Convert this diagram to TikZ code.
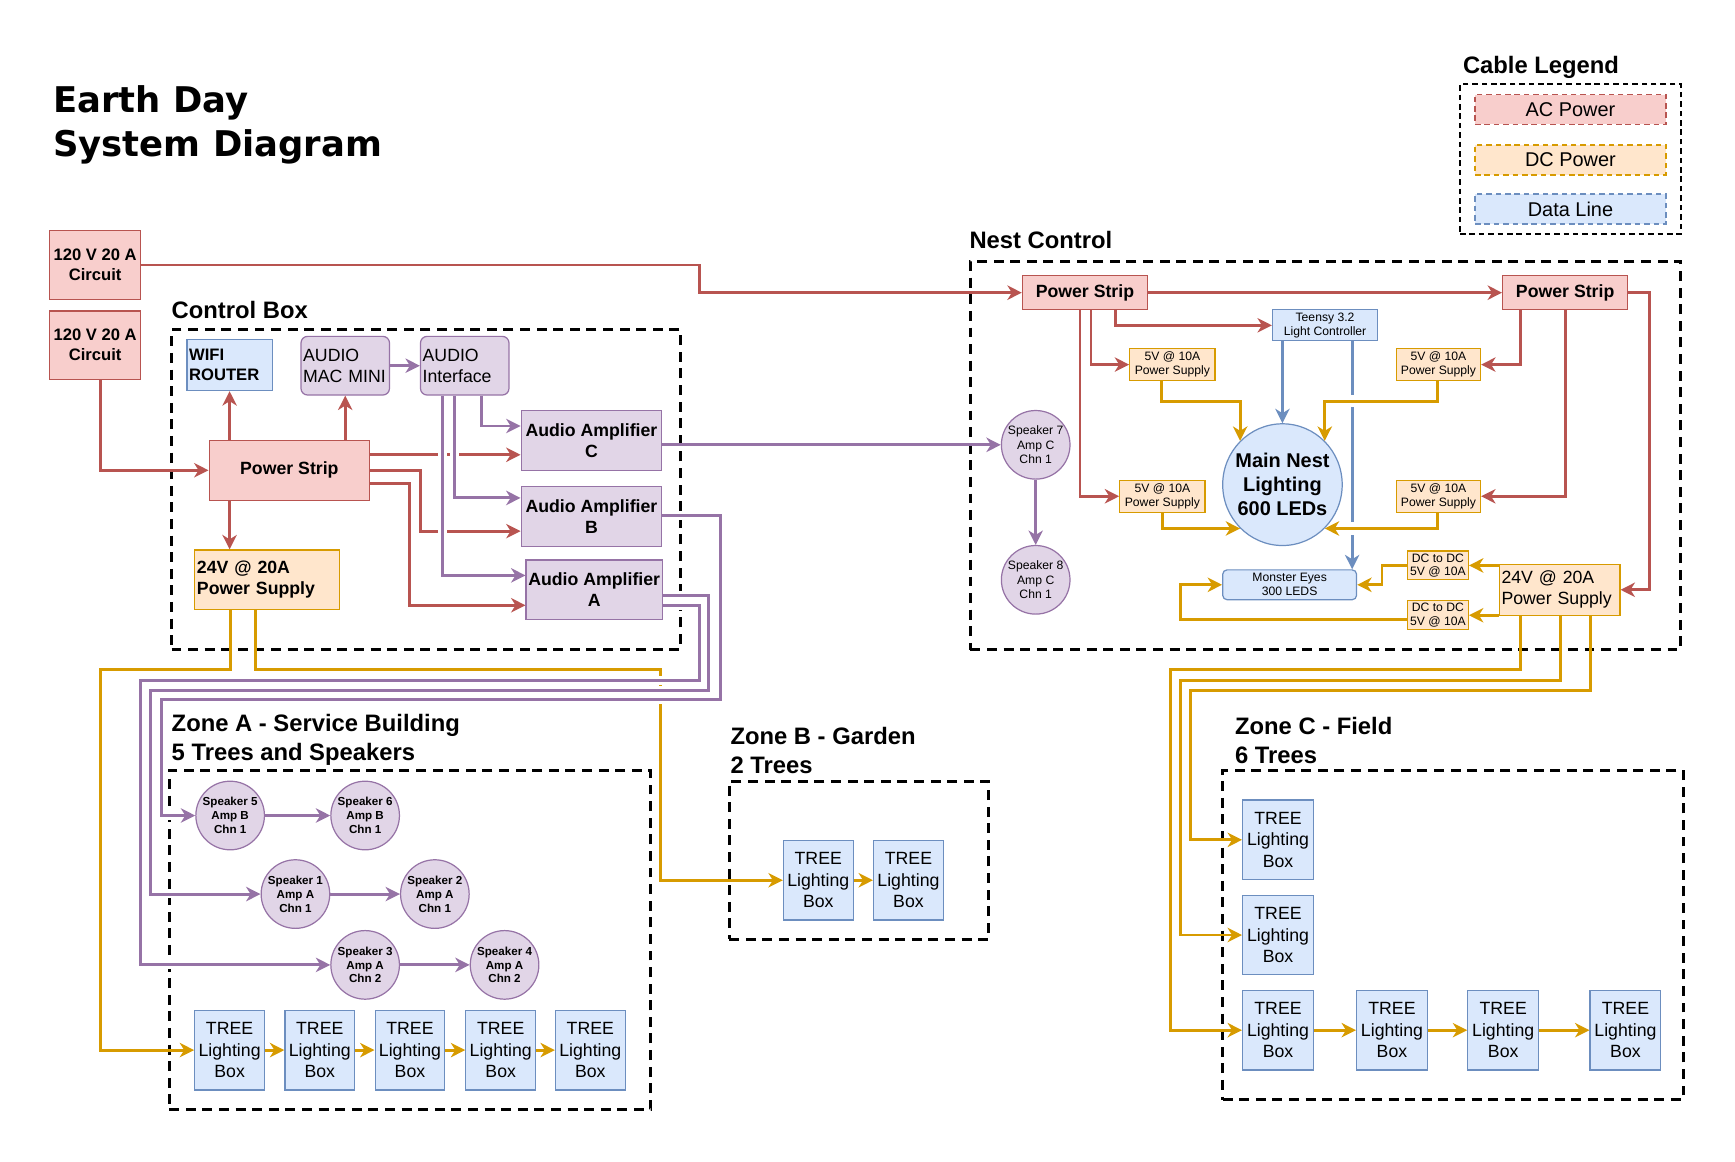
\documentclass[tikz,border=0pt]{standalone}
\usepackage{fontspec}
\setmainfont{Liberation Sans}
\newfontfamily\titlefont{DejaVu Sans}
\usetikzlibrary{arrows.meta,shapes.geometric}
\definecolor{redF}{HTML}{F8CECC}
\definecolor{redS}{HTML}{B85450}
\definecolor{orgF}{HTML}{FFE6CC}
\definecolor{orgS}{HTML}{D79B00}
\definecolor{bluF}{HTML}{DAE8FC}
\definecolor{bluS}{HTML}{6C8EBF}
\definecolor{purF}{HTML}{E1D5E7}
\definecolor{purS}{HTML}{9673A6}
\newcommand\fsz[2]{\fontsize{#1}{#2}\selectfont}
\tikzset{
  basebox/.style={draw, line width=1.1pt, inner sep=2pt, align=center, text=black},
  redbox/.style={basebox, fill=redF, draw=redS},
  orgbox/.style={basebox, fill=orgF, draw=orgS},
  blubox/.style={basebox, fill=bluF, draw=bluS},
  purbox/.style={basebox, fill=purF, draw=purS},
  small/.style={inner sep=1pt, font=\fsz{11}{12.6}},
  tree/.style={blubox, minimum width=63pt, minimum height=72pt, font=\fsz{16}{19.5}},
  spk/.style={circle, fill=purF, draw=purS, line width=1.1pt, minimum size=62pt, inner sep=0pt, align=center, font=\fsz{10.5}{12.6}\bfseries},
  spkn/.style={spk, font=\fsz{11}{13.2}},
  cont/.style={draw=black, line width=2.7pt, dash pattern=on 9pt off 6pt},
  lbl/.style={font=\fsz{21.5}{26}\bfseries, anchor=base west, inner sep=0pt, align=left},
  tip/.style={-{Stealth[length=13pt,width=13pt,inset=4pt]}},
  ac/.style={draw=redS, line width=2.6pt, tip},
  dc/.style={draw=orgS, line width=2.6pt, tip},
  dataln/.style={draw=bluS, line width=2.6pt, tip},
  aud/.style={draw=purS, line width=2.6pt, tip},
  halo/.style={preaction={draw=white, line width=#1, arrows=-, shorten <=6pt, shorten >=15pt}},
  legbox/.style={line width=1.4pt, dash pattern=on 5pt off 3.5pt, minimum width=172.6pt, minimum height=27pt, font=\fsz{18}{21}, inner sep=0pt}
}
\begin{document}
\begin{tikzpicture}[x=1pt,y=-1pt]
\useasboundingbox (0,0) rectangle (1568,1050);

% ---------- titles and labels
\node[font=\titlefont\fsz{32}{39}\bfseries, anchor=base west, inner sep=0pt, align=left] (title) at (48,141) {Earth Day\\System Diagram};
\node[lbl] (lcb) at (155,288) {Control Box};
\node[lbl] (lnest) at (876,225) {Nest Control};
\node[lbl] (lza) at (155,687) {Zone A - Service Building\\5 Trees and Speakers};
\node[lbl] (lzb) at (660,699) {Zone B - Garden\\2 Trees};
\node[lbl] (lzc) at (1116,690) {Zone C - Field\\6 Trees};
\node[lbl] (lleg) at (1322,66) {Cable Legend};

% ---------- containers
\node[cont, minimum width=460pt, minimum height=289pt, inner sep=0pt] (cbox) at (385,442.5) {};
\node[cont, minimum width=642pt, minimum height=351pt, inner sep=0pt] (nbox) at (1198,411.5) {};
\node[cont, minimum width=435pt, minimum height=307pt, inner sep=0pt] (zabox) at (370.5,849.5) {};
\node[cont, minimum width=234pt, minimum height=143pt, inner sep=0pt] (zbbox) at (776,777.5) {};
\node[cont, minimum width=416pt, minimum height=298pt, inner sep=0pt] (zcbox) at (1313,845) {};
\node[draw=black, line width=1.4pt, dash pattern=on 5pt off 3.5pt, minimum width=199.5pt, minimum height=135.5pt, inner sep=0pt] (lgbox) at (1419.25,143.75) {};

% ---------- legend
\node[legbox, fill=redF, draw=redS] (lac) at (1419.3,99) {AC Power};
\node[legbox, fill=orgF, draw=orgS] (ldc) at (1419.3,144.5) {DC Power};
\node[legbox, fill=bluF, draw=bluS] (ldata) at (1419.3,189) {Data Line};

% ---------- circuits
\node[redbox, minimum width=82pt, minimum height=63pt, font=\fsz{15}{18}\bfseries] (c1) at (86,239.5) {120 V 20 A\\Circuit};
\node[redbox, minimum width=82pt, minimum height=62pt, font=\fsz{15}{18}\bfseries] (c2) at (86,312) {120 V 20 A\\Circuit};

% ---------- control box
\node[blubox, text width=73pt, align=left, minimum height=46pt, font=\fsz{15}{18}\bfseries] (wifi) at (207.5,330) {WIFI\\ROUTER};
\node[purbox, rounded corners=6pt, text width=76pt, align=left, minimum height=53pt, font=\fsz{16}{19}] (mac) at (312,330.5) {AUDIO\\MAC MINI};
\node[purbox, rounded corners=6pt, text width=76pt, align=left, minimum height=53pt, font=\fsz{16}{19}] (iface) at (420,330.5) {AUDIO\\Interface};
\node[redbox, minimum width=145pt, minimum height=54pt, font=\fsz{16}{19}\bfseries] (ps) at (261.5,425) {Power Strip};
\node[orgbox, text width=127pt, align=left, minimum height=54pt, font=\fsz{16}{19}\bfseries] (sup) at (241.5,524) {24V @ 20A\\Power Supply};
\node[purbox, minimum width=127pt, minimum height=54pt, font=\fsz{16}{19}\bfseries] (ampC) at (534.5,398) {Audio Amplifier\\C};
\node[purbox, minimum width=127pt, minimum height=54pt, font=\fsz{16}{19}\bfseries] (ampB) at (534.5,467) {Audio Amplifier\\B};
\node[purbox, minimum width=122pt, minimum height=54pt, font=\fsz{16}{19}\bfseries] (ampA) at (537,533) {Audio Amplifier\\A};

% ---------- nest control
\node[redbox, minimum width=113pt, minimum height=31pt, font=\fsz{16}{19}\bfseries] (ps1) at (980.5,264.5) {Power Strip};
\node[redbox, minimum width=113pt, minimum height=31pt, font=\fsz{16}{19}\bfseries] (ps2) at (1414.5,264.5) {Power Strip};
\node[blubox, small, minimum width=95pt, minimum height=28pt] (teensy) at (1197.5,294) {Teensy 3.2\\Light Controller};
\node[orgbox, small, minimum width=77pt, minimum height=29pt] (v1) at (1059.5,329.5) {5V @ 10A\\Power Supply};
\node[orgbox, small, minimum width=76pt, minimum height=29pt] (v2) at (1300,329.5) {5V @ 10A\\Power Supply};
\node[orgbox, small, minimum width=77pt, minimum height=29pt] (v3) at (1050.5,448.5) {5V @ 10A\\Power Supply};
\node[orgbox, small, minimum width=76pt, minimum height=29pt] (v4) at (1300,448.5) {5V @ 10A\\Power Supply};
\node[ellipse, fill=bluF, draw=bluS, line width=1.1pt, minimum width=108pt, minimum height=110pt, inner sep=-5pt, align=center, font=\fsz{18}{21.5}\bfseries] (mainnest) at (1159,438) {Main Nest\\Lighting\\600 LEDs};
\node[blubox, small, rounded corners=4pt, minimum width=121pt, minimum height=27pt] (monster) at (1165.5,528.5) {Monster Eyes\\300 LEDS};
\node[orgbox, small, minimum width=55pt, minimum height=26pt, font=\fsz{11}{12}] (dc1) at (1299.5,511) {DC to DC\\5V @ 10A};
\node[orgbox, small, minimum width=55pt, minimum height=26pt, font=\fsz{11}{12}] (dc2) at (1299.5,556) {DC to DC\\5V @ 10A};
\node[orgbox, text width=105pt, align=left, minimum height=46pt, font=\fsz{16}{19}] (sup2) at (1409.5,533) {24V @ 20A\\Power Supply};
\node[spkn] (sp7) at (936,402) {Speaker 7\\Amp C\\Chn 1};
\node[spkn] (sp8) at (936,524) {Speaker 8\\Amp C\\Chn 1};

% ---------- zone A
\node[spk] (sp5) at (208,737) {Speaker 5\\Amp B\\Chn 1};
\node[spk] (sp6) at (330,737) {Speaker 6\\Amp B\\Chn 1};
\node[spk] (sp1) at (267,808) {Speaker 1\\Amp A\\Chn 1};
\node[spk] (sp2) at (393,808) {Speaker 2\\Amp A\\Chn 1};
\node[spk] (sp3) at (330,872) {Speaker 3\\Amp A\\Chn 2};
\node[spk] (sp4) at (456,872) {Speaker 4\\Amp A\\Chn 2};
\node[tree] (ta1) at (207.5,949) {TREE\\Lighting\\Box};
\node[tree] (ta2) at (289,949) {TREE\\Lighting\\Box};
\node[tree] (ta3) at (370.5,949) {TREE\\Lighting\\Box};
\node[tree] (ta4) at (452.5,949) {TREE\\Lighting\\Box};
\node[tree] (ta5) at (533.5,949) {TREE\\Lighting\\Box};

% ---------- zone B
\node[tree] (tb1) at (739.5,795.5) {TREE\\Lighting\\Box};
\node[tree] (tb2) at (821,795.5) {TREE\\Lighting\\Box};

% ---------- zone C
\node[tree, minimum width=64pt] (tc1) at (1155,759) {TREE\\Lighting\\Box};
\node[tree, minimum width=64pt] (tc2) at (1155,845) {TREE\\Lighting\\Box};
\node[tree, minimum width=64pt] (tc3) at (1155,931) {TREE\\Lighting\\Box};
\node[tree, minimum width=64pt] (tc4) at (1258,931) {TREE\\Lighting\\Box};
\node[tree, minimum width=64pt] (tc5) at (1358.5,931) {TREE\\Lighting\\Box};
\node[tree, minimum width=64pt] (tc6) at (1469,931) {TREE\\Lighting\\Box};

% ---------- AC power
\draw[ac] (c1.east) -- (632,239.5) -- (632,264.5) -- (ps1.west);
\draw[ac] ([xshift=5pt]c2.south) |- (ps.west);
\draw[ac] (wifi.south |- ps.north) -- (wifi.south);
\draw[ac] (mac.south |- ps.north) -- (mac.south);
\draw[ac] ([yshift=14pt]ps.east) -- ([yshift=-13pt]ampC.west);
\draw[ac] (ps.east) -- (380,425) -- (380,480) -- ([yshift=-13pt]ampB.west);
\draw[ac] ([yshift=-12pt]ps.east) -- (370,437) -- (370,547) -- ([yshift=-14pt]ampA.west);
\draw[ac] (wifi.south |- ps.south) -- (wifi.south |- sup.north);
\draw[ac] (ps1.east) -- (ps2.west);
\draw[ac] ([xshift=27.5pt]ps1.south) |- (teensy.west);
\draw[ac] ([xshift=5.5pt]ps1.south) |- (v1.west);
\draw[ac] ([xshift=-4.5pt]ps1.south) |- (v3.west);
\draw[ac] ([xshift=-40.5pt]ps2.south) |- (v2.east);
\draw[ac] (ps2.south) |- (v4.east);
\draw[ac] (ps2.east) -- (1491,264.5) |- (sup2.east);

% ---------- DC power
\draw[dc] ([xshift=-33.5pt]sup.south) -- (208,605) -- (91,605) |- (ta1.west);
\draw[dc] ([xshift=-10.5pt]sup.south) -- (231,605) -- (597,605) |- (tb1.west);
\draw[dc] (ta1.east) -- (ta2.west);
\draw[dc] (ta2.east) -- (ta3.west);
\draw[dc] (ta3.east) -- (ta4.west);
\draw[dc] (ta4.east) -- (ta5.west);
\draw[dc] (tb1.east) -- (tb2.west);
\draw[dc] ([xshift=-9.5pt]v1.south) -- ++(0,18) -| (mainnest.134);
\draw[dc] (v3.south) |- (mainnest.226);
\draw[dc] (sup2.west |- dc1.east) -- (dc1.east);
\draw[dc] (sup2.west |- dc2.east) -- (dc2.east);
\draw[dc] (dc1.west) -- (1249,511) |- (monster.east);
\draw[dc] ([yshift=-4pt]dc2.west) -- (1067,560) |- (monster.west);
\draw[dc] ([xshift=-35.5pt]sup2.south) -- (1374,605) -- (1058,605) |- (tc3.west);
\draw[dc] ([xshift=0.5pt]sup2.south) -- (1410,615) -- (1067,615) |- (tc2.west);
\draw[dc] ([xshift=27.5pt]sup2.south) -- (1437,624) -- (1076,624) |- (tc1.west);
\draw[dc] (tc3.east) -- (tc4.west);
\draw[dc] (tc4.east) -- (tc5.west);
\draw[dc] (tc5.east) -- (tc6.west);

% ---------- data
\draw[dataln] (teensy.south -| mainnest.north) -- (mainnest.north);
\draw[dataln] ([xshift=24.5pt]teensy.south) -- ([xshift=56.5pt]monster.north);
\draw[dc, halo=11pt] ([xshift=-1pt]v2.south) -- ++(0,18) -| (mainnest.46);
\draw[dc, halo=11pt] ([xshift=-1pt]v4.south) |- (mainnest.314);

% ---------- audio
\draw[aud] (mac.east) -- (iface.west);
\draw[aud] ([xshift=15pt]iface.south) |- ([yshift=13pt]ampC.west);
\draw[aud, halo=8pt] ([xshift=-9pt]iface.south) |- ([yshift=17pt]ampB.west);
\draw[aud, halo=8pt] ([xshift=-20pt]iface.south) |- ([yshift=13pt]ampA.west);
\draw[aud] ([yshift=-4pt]ampC.east) -- (sp7.west);
\draw[aud, halo=8pt] ([yshift=1pt]ampB.east) -- (651,466) -- (651,632) -- (146,632) |- (sp5.west);
\draw[aud, halo=8pt] ([yshift=-5pt]ampA.east) -- (640,538) -- (640,624) -- (136,624) |- (sp1.west);
\draw[aud, halo=8pt] ([yshift=-14pt]ampA.east) -- (632,547) -- (632,615) -- (127,615) |- (sp3.west);
\draw[aud] (sp5.east) -- (sp6.west);
\draw[aud] (sp1.east) -- (sp2.west);
\draw[aud] (sp3.east) -- (sp4.west);
\draw[aud] (sp7.south) -- (sp8.north);
\end{tikzpicture}
\end{document}
